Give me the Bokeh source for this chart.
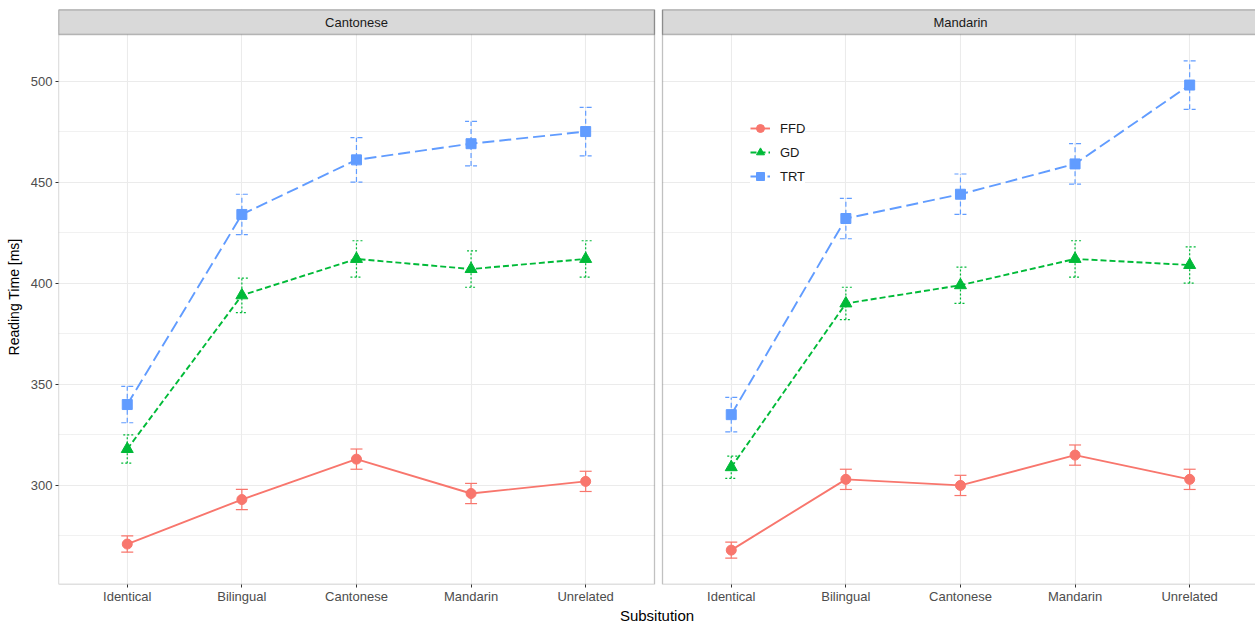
from bokeh.plotting import figure
from bokeh.models import (ColumnDataSource, FixedTicker, Whisker, TeeHead, BoxAnnotation,
                          Label, Legend, LegendItem, Range1d)
from bokeh.embed import file_html
from bokeh.resources import INLINE

# ---------------- data ----------------
substitutions = ["Identical", "Bilingual", "Cantonese", "Mandarin", "Unrelated"]
panels = ["Cantonese", "Mandarin"]
measures = ["FFD", "GD", "TRT"]

cantonese_ffd = [271, 293, 313, 296, 302]
cantonese_gd = [318, 394, 412, 407, 412]
cantonese_trt = [340, 434, 461, 469, 475]
mandarin_ffd = [268, 303, 300, 315, 303]
mandarin_gd = [309, 390, 399, 412, 409]
mandarin_trt = [335, 432, 444, 459, 498]

cantonese_ffd_err = [4, 5, 5, 5, 5]
cantonese_gd_err = [7, 8.5, 9, 9, 9]
cantonese_trt_err = [9, 10, 11, 11, 12]
mandarin_ffd_err = [4, 5, 5, 5, 5]
mandarin_gd_err = [5.5, 8, 9, 9, 9]
mandarin_trt_err = [8.5, 10, 10, 10, 12]

y_ticks = [300, 350, 400, 450, 500]
y_minor = [275, 325, 375, 425, 475, 525]

series = {
    ("Cantonese", "FFD"): (cantonese_ffd, cantonese_ffd_err),
    ("Cantonese", "GD"): (cantonese_gd, cantonese_gd_err),
    ("Cantonese", "TRT"): (cantonese_trt, cantonese_trt_err),
    ("Mandarin", "FFD"): (mandarin_ffd, mandarin_ffd_err),
    ("Mandarin", "GD"): (mandarin_gd, mandarin_gd_err),
    ("Mandarin", "TRT"): (mandarin_trt, mandarin_trt_err),
}

# ---------------- style ----------------
FONT = "Liberation Sans"
COLORS = {"FFD": "#F8766D", "GD": "#00BA38", "TRT": "#619CFF"}
LINE_DASH = {"FFD": "solid", "GD": "6 3", "TRT": "12 5"}
ERR_DASH = {"FFD": "solid", "GD": "2 2", "TRT": "5 3"}
MARKER = {"FFD": "circle", "GD": "triangle", "TRT": "square"}
MSIZE = {"FFD": 10, "GD": 12, "TRT": 10}

W, H = 1255, 626
PX_PER_X = 114.6
X_START = 0.4
FRAME_L, FRAME_T, FRAME_R = 58, 9, 1255
FRAME_B = 584            # expected frame bottom (axis needs ~42px)
PANEL_TOP_PX = FRAME_T + 25
Y_BOTTOM, Y_PANEL_TOP = 251.0, 523.0
px_per_y = (FRAME_B - PANEL_TOP_PX) / (Y_PANEL_TOP - Y_BOTTOM)
Y_END = Y_PANEL_TOP + (PANEL_TOP_PX - FRAME_T) / px_per_y
X_END = X_START + (FRAME_R - FRAME_L) / PX_PER_X
PANEL_W = 596 / PX_PER_X
LEFT_PANEL_R = X_START + PANEL_W
RIGHT_PANEL_L = X_START + 604 / PX_PER_X
OFFSET = RIGHT_PANEL_L - X_START
panel_bounds = {"Cantonese": (X_START, LEFT_PANEL_R),
                "Mandarin": (RIGHT_PANEL_L, RIGHT_PANEL_L + PANEL_W)}
panel_offsets = {"Cantonese": 0.0, "Mandarin": OFFSET}

p = figure(width=W, height=H,
           x_range=Range1d(X_START, X_END), y_range=Range1d(Y_BOTTOM, Y_END),
           output_backend="svg", toolbar_location=None,
           min_border_left=FRAME_L, min_border_right=W - FRAME_R,
           min_border_top=FRAME_T, min_border_bottom=H - FRAME_B)
p.outline_line_color = None
p.background_fill_color = "white"
p.border_fill_color = "white"

# ticks
x_ticks = []
overrides = {}
for pn in panels:
    for i, s in enumerate(substitutions):
        t = round(i + 1 + panel_offsets[pn], 4)
        x_ticks.append(t)
        overrides[t] = s
xt = FixedTicker(ticks=x_ticks)
p.xaxis.ticker = xt
p.xaxis.major_label_overrides = overrides
p.xgrid.ticker = xt
p.yaxis.ticker = FixedTicker(ticks=y_ticks)
p.ygrid.ticker = FixedTicker(ticks=y_ticks, minor_ticks=y_minor)

for ax in (p.xaxis, p.yaxis):
    ax.axis_line_color = None
    ax.major_tick_line_color = "#333333"
    ax.major_tick_out = 3
    ax.major_tick_in = 0
    ax.minor_tick_line_color = None
    ax.major_label_text_font = FONT
    ax.major_label_text_font_size = "13px"
    ax.major_label_text_color = "#4D4D4D"
    ax.major_label_standoff = 3
    ax.axis_label_text_font = FONT
    ax.axis_label_text_font_style = "normal"
    ax.axis_label_text_color = "black"
p.xaxis.major_label_standoff = 1
p.xaxis.axis_label = "Subsitution"
p.xaxis.axis_label_text_font_size = "15px"
p.xaxis.axis_label_standoff = 0
p.yaxis.axis_label = "Reading Time [ms]"
p.yaxis.axis_label_text_font_size = "14px"
p.yaxis.axis_label_standoff = 6

p.xgrid.grid_line_color = "#EBEBEB"
p.xgrid.grid_line_width = 1.1
p.ygrid.grid_line_color = "#EBEBEB"
p.ygrid.grid_line_width = 1.1
p.ygrid.minor_grid_line_color = "#EBEBEB"
p.ygrid.minor_grid_line_width = 0.7

# data
legend_renderers = {}
for pn in panels:
    for m in measures:
        means, errs = series[(pn, m)]
        xs = [i + 1 + panel_offsets[pn] for i in range(len(substitutions))]
        src = ColumnDataSource(dict(
            x=xs, y=means,
            upper=[v + e for v, e in zip(means, errs)],
            lower=[v - e for v, e in zip(means, errs)],
        ))
        c = COLORS[m]
        w = Whisker(base="x", upper="upper", lower="lower", source=src, dimension="height",
                    line_color=c, line_width=1.2, line_dash=ERR_DASH[m],
                    upper_head=TeeHead(size=12, line_color=c, line_width=1.2, line_dash=ERR_DASH[m]),
                    lower_head=TeeHead(size=12, line_color=c, line_width=1.2, line_dash=ERR_DASH[m]))
        p.add_layout(w)
        lr = p.line("x", "y", source=src, line_color=c, line_width=1.9, line_dash=LINE_DASH[m])
        sr = p.scatter("x", "y", source=src, marker=MARKER[m], size=MSIZE[m],
                       fill_color=c, line_color=c)
        if pn == panels[0]:
            legend_renderers[m] = [lr, sr]

# gap between panels
p.add_layout(BoxAnnotation(left=LEFT_PANEL_R, right=RIGHT_PANEL_L, bottom=Y_BOTTOM, top=Y_END,
                           fill_color="white", fill_alpha=1, line_color=None))
# strips and panel borders
for pn in panels:
    l, r = panel_bounds[pn]
    p.add_layout(BoxAnnotation(left=l, right=r, bottom=Y_PANEL_TOP, top=Y_END,
                               fill_color="#D9D9D9", fill_alpha=1,
                               line_color="#333333", line_width=1.3))
    p.add_layout(BoxAnnotation(left=l, right=r, bottom=Y_BOTTOM, top=Y_END,
                               fill_alpha=0, line_color="#333333", line_width=1.3))
    p.add_layout(Label(x=(l + r) / 2, y=(Y_PANEL_TOP + Y_END) / 2, text=pn,
                       text_align="center", text_baseline="middle",
                       text_font=FONT, text_font_size="13px", text_color="#1A1A1A"))

legend = Legend(items=[LegendItem(label=m, renderers=legend_renderers[m]) for m in measures],
                location=(692, FRAME_B - 186), orientation="vertical",
                glyph_width=20, glyph_height=20, label_standoff=10, spacing=4, padding=8,
                margin=0, label_text_font=FONT, label_text_font_size="13px",
                label_text_color="#1A1A1A", border_line_color=None,
                background_fill_color="white", background_fill_alpha=1)
p.add_layout(legend)

open("out.html", "w").write(file_html(p, INLINE))
